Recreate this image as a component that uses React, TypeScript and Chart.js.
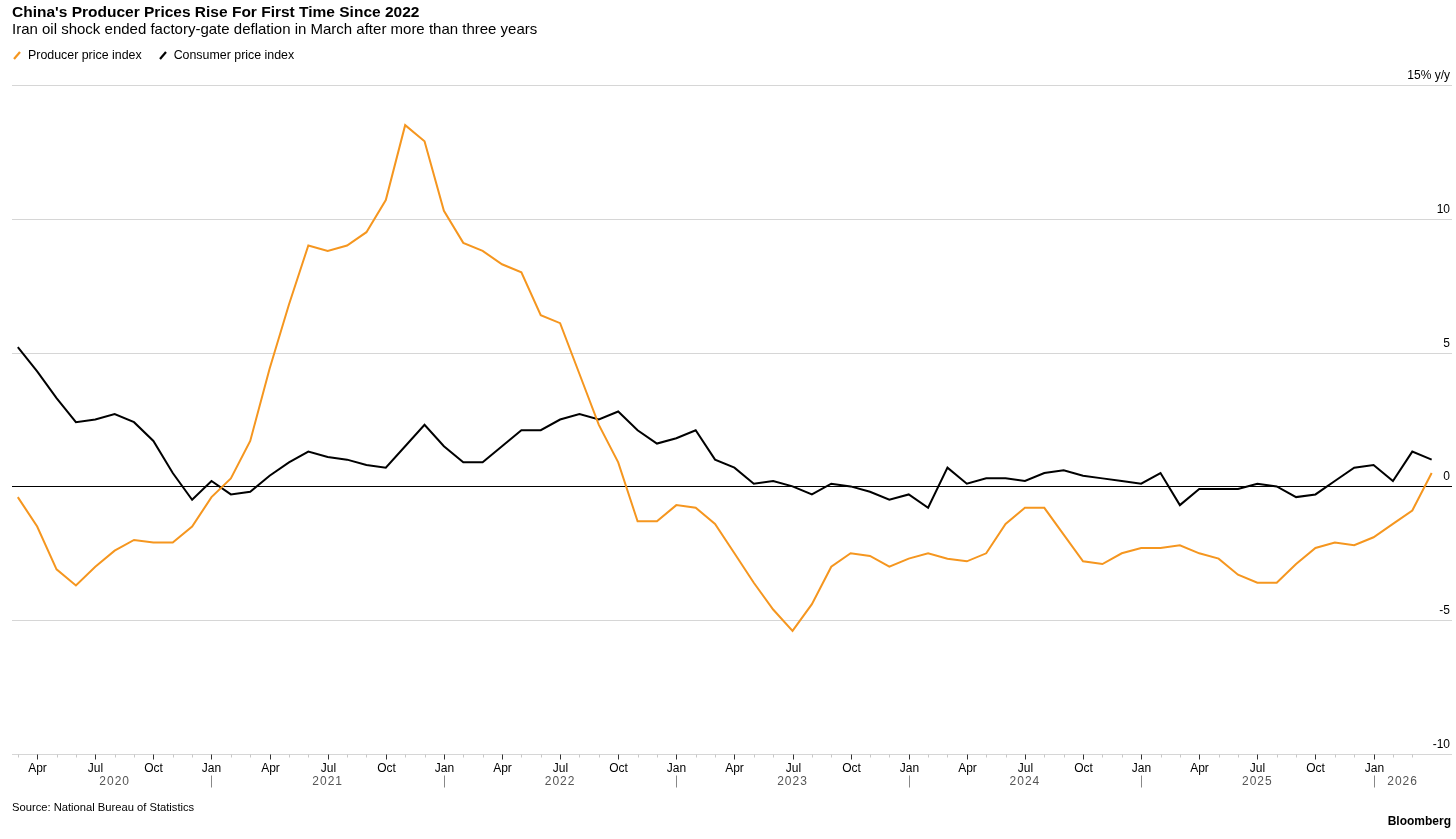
import React, { useEffect, useRef } from "react";
import { Chart, registerables } from "chart.js";

Chart.register(...registerables);

// Monthly data, Feb 2020 .. Mar 2026 (y/y %)
const FIRST_MONTH_INDEX = 1; // Feb 2020 (months since Jan 2020, zero-based)
const ppiValues = [
  -0.4, -1.5, -3.1, -3.7, -3.0, -2.4, -2.0, -2.1, -2.1, -1.5, -0.4,
  0.3, 1.7, 4.4, 6.8, 9.0, 8.8, 9.0, 9.5, 10.7, 13.5, 12.9, 10.3,
  9.1, 8.8, 8.3, 8.0, 6.4, 6.1, 4.2, 2.3, 0.9, -1.3, -1.3, -0.7,
  -0.8, -1.4, -2.5, -3.6, -4.6, -5.4, -4.4, -3.0, -2.5, -2.6, -3.0, -2.7,
  -2.5, -2.7, -2.8, -2.5, -1.4, -0.8, -0.8, -1.8, -2.8, -2.9, -2.5, -2.3,
  -2.3, -2.2, -2.5, -2.7, -3.3, -3.6, -3.6, -2.9, -2.3, -2.1, -2.2, -1.9,
  -1.4, -0.9, 0.5,
];
const cpiValues = [
  5.2, 4.3, 3.3, 2.4, 2.5, 2.7, 2.4, 1.7, 0.5, -0.5, 0.2,
  -0.3, -0.2, 0.4, 0.9, 1.3, 1.1, 1.0, 0.8, 0.7, 1.5, 2.3, 1.5,
  0.9, 0.9, 1.5, 2.1, 2.1, 2.5, 2.7, 2.5, 2.8, 2.1, 1.6, 1.8,
  2.1, 1.0, 0.7, 0.1, 0.2, 0.0, -0.3, 0.1, 0.0, -0.2, -0.5, -0.3,
  -0.8, 0.7, 0.1, 0.3, 0.3, 0.2, 0.5, 0.6, 0.4, 0.3, 0.2, 0.1,
  0.5, -0.7, -0.1, -0.1, -0.1, 0.1, 0.0, -0.4, -0.3, 0.2, 0.7, 0.8,
  0.2, 1.3, 1.0,
];
const monthNames = ["Jan", "Feb", "Mar", "Apr", "May", "Jun", "Jul", "Aug", "Sep", "Oct", "Nov", "Dec"];
const yearLabels = ["2020", "2021", "2022", "2023", "2024", "2025", "2026"];
const yTickValues = [15, 10, 5, 0, -5, -10];
const yTickLabels = ["15% y/y", "10", "5", "0", "-5", "-10"];
const seriesNames = ["Producer price index", "Consumer price index"];

const PPI_COLOR = "#F5961F";
const CPI_COLOR = "#000000";
const FONT = '"Liberation Sans", Arial, Helvetica, sans-serif';

// point for month i is plotted at the end of that month
const toPoints = (vals: number[]) =>
  vals.map((v, i) => ({ x: FIRST_MONTH_INDEX + i + 1, y: v }));

const overlayPlugin = {
  id: "overlay",
  beforeDatasetsDraw(chart: any) {
    const { ctx, chartArea, scales } = chart;
    const ys = scales.y;
    ctx.save();
    yTickValues.forEach((v) => {
      const y = Math.round(ys.getPixelForValue(v)) + 0.5;
      ctx.strokeStyle = v === 0 ? "#000000" : "#d6d6d6";
      ctx.lineWidth = 1;
      ctx.beginPath();
      ctx.moveTo(chartArea.left, y);
      ctx.lineTo(chartArea.right, y);
      ctx.stroke();
    });
    ctx.restore();
  },
  afterDraw(chart: any) {
    const { ctx, chartArea, scales } = chart;
    const xs = scales.x;
    const ys = scales.y;
    ctx.save();
    // y labels
    ctx.font = `12px ${FONT}`;
    ctx.fillStyle = "#000";
    ctx.textAlign = "right";
    ctx.textBaseline = "alphabetic";
    yTickValues.forEach((v, i) => {
      const y = ys.getPixelForValue(v);
      ctx.fillText(yTickLabels[i], chartArea.right - 2, y - 6);
    });
    // x ticks
    const bottom = Math.round(chartArea.bottom) + 0.5;
    const firstX = FIRST_MONTH_INDEX + 1;
    const lastX = FIRST_MONTH_INDEX + ppiValues.length;
    const minM = Math.ceil(xs.min);
    const maxM = lastX - 1;
    for (let m = minM; m <= maxM; m++) {
      const x = Math.round(xs.getPixelForValue(m)) + 0.5;
      const major = m % 3 === 0;
      ctx.strokeStyle = major ? "#333" : "#c8c8c8";
      ctx.lineWidth = 1;
      ctx.beginPath();
      ctx.moveTo(x, bottom);
      ctx.lineTo(x, bottom + (major ? 5 : 3));
      ctx.stroke();
      if (major) {
        ctx.font = `12px ${FONT}`;
        ctx.fillStyle = "#000";
        ctx.textAlign = "center";
        ctx.textBaseline = "middle";
        ctx.fillText(monthNames[m % 12], x, bottom + 14);
      }
    }
    // years
    yearLabels.forEach((label, k) => {
      const janM = k * 12;
      const nextJan = janM + 12;
      const a = Math.max(janM, firstX);
      const b = Math.min(nextJan, lastX);
      const cx = (xs.getPixelForValue(a) + xs.getPixelForValue(b)) / 2;
      ctx.font = `12px ${FONT}`;
      (ctx as any).letterSpacing = "1px";
      ctx.fillStyle = "#555";
      ctx.textAlign = "center";
      ctx.textBaseline = "middle";
      ctx.fillText(label, cx, bottom + 27);
      (ctx as any).letterSpacing = "0px";
      if (janM >= xs.min && janM <= xs.max && janM > 0) {
        const x = Math.round(xs.getPixelForValue(janM)) + 0.5;
        ctx.strokeStyle = "#888";
        ctx.beginPath();
        ctx.moveTo(x, bottom + 21);
        ctx.lineTo(x, bottom + 33);
        ctx.stroke();
      }
    });
    ctx.restore();
  },
};

function LegendIcon({ color }: { color: string }) {
  return (
    <svg width="10" height="10" style={{ display: "inline-block", verticalAlign: "middle", marginRight: 6 }}>
      <line x1="2" y1="9" x2="8" y2="2" stroke={color} strokeWidth="2.2" />
    </svg>
  );
}

export default function App() {
  const canvasRef = useRef<HTMLCanvasElement | null>(null);

  useEffect(() => {
    if (!canvasRef.current) return;
    const chart = new Chart(canvasRef.current, {
      type: "line",
      data: {
        datasets: [
          {
            label: seriesNames[0],
            data: toPoints(ppiValues),
            borderColor: PPI_COLOR,
            borderWidth: 2,
            pointRadius: 0,
            tension: 0,
          },
          {
            label: seriesNames[1],
            data: toPoints(cpiValues),
            borderColor: CPI_COLOR,
            borderWidth: 2,
            pointRadius: 0,
            tension: 0,
          },
        ],
      },
      options: {
        responsive: false,
        animation: false,
        devicePixelRatio: 1,
        layout: { padding: { left: 12, right: 4, top: 85, bottom: 85 } },
        plugins: { legend: { display: false }, tooltip: { enabled: false } },
        scales: {
          x: { type: "linear", min: 1.7, max: 76.05, display: false },
          y: { type: "linear", min: -10, max: 15, display: false },
        },
      },
      plugins: [overlayPlugin],
    });
    return () => chart.destroy();
  }, []);

  const text: React.CSSProperties = { position: "absolute", fontFamily: FONT, color: "#000", whiteSpace: "nowrap", margin: 0 };

  return (
    <div style={{ position: "absolute", left: 0, top: 0, width: 1456, height: 839, background: "#fff" }}>
      <canvas ref={canvasRef} width={1456} height={839} style={{ position: "absolute", left: 0, top: 0 }} />
      <div style={{ ...text, left: 12, top: 3, fontSize: 15.5, fontWeight: 700, lineHeight: "18px" }}>
        China's Producer Prices Rise For First Time Since 2022
      </div>
      <div style={{ ...text, left: 12, top: 20, fontSize: 15, lineHeight: "18px" }}>
        Iran oil shock ended factory-gate deflation in March after more than three years
      </div>
      <div style={{ ...text, left: 12, top: 46, fontSize: 12.4, lineHeight: "16px" }}>
        <LegendIcon color={PPI_COLOR} />
        <span style={{ verticalAlign: "middle", marginRight: 16 }}>{seriesNames[0]}</span>
        <LegendIcon color={CPI_COLOR} />
        <span style={{ verticalAlign: "middle" }}>{seriesNames[1]}</span>
      </div>
      <div style={{ ...text, left: 12, top: 799, fontSize: 11.2, lineHeight: "16px" }}>
        Source: National Bureau of Statistics
      </div>
      <div style={{ ...text, right: 5, top: 813, fontSize: 12, fontWeight: 700, lineHeight: "16px" }}>
        Bloomberg
      </div>
    </div>
  );
}
